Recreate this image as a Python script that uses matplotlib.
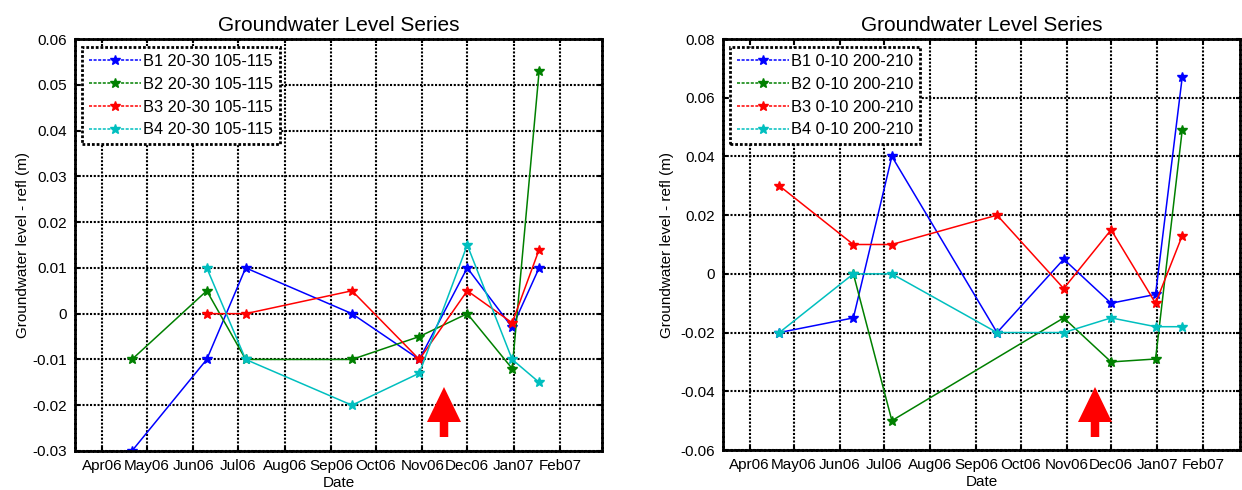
import datetime as dt
import numpy as np

import matplotlib
matplotlib.use('Agg')
import matplotlib.pyplot as plt
import matplotlib.dates as mdates
import matplotlib.ticker as mtick
from matplotlib.patches import FancyArrow
from matplotlib.lines import Line2D

plt.rcParams['font.family'] = ['Liberation Sans', 'DejaVu Sans']
plt.rcParams['font.size'] = 11
plt.rcParams['axes.unicode_minus'] = False

# survey dates (same for both panels)
dates = [dt.date(2006, 4, 21), dt.date(2006, 6, 10), dt.date(2006, 7, 6),
         dt.date(2006, 9, 15), dt.date(2006, 10, 30), dt.date(2006, 12, 1),
         dt.date(2006, 12, 31), dt.date(2007, 1, 18)]
nan = np.nan

# left panel: 20-30 105-115
left_labels = ['B1 20-30 105-115', 'B2 20-30 105-115', 'B3 20-30 105-115', 'B4 20-30 105-115']
left_b1 = [-0.030, -0.010, 0.010, 0.000, -0.010, 0.010, -0.003, 0.010]
left_b2 = [-0.010, 0.005, -0.010, -0.010, -0.005, 0.000, -0.012, 0.053]
left_b3 = [nan, 0.000, 0.000, 0.005, -0.010, 0.005, -0.002, 0.014]
left_b4 = [nan, 0.010, -0.010, -0.020, -0.013, 0.015, -0.010, -0.015]

# right panel: 0-10 200-210
right_labels = ['B1 0-10 200-210', 'B2 0-10 200-210', 'B3 0-10 200-210', 'B4 0-10 200-210']
right_b1 = [-0.020, -0.015, 0.040, -0.020, 0.005, -0.010, -0.007, 0.067]
right_b2 = [nan, 0.000, -0.050, nan, -0.015, -0.030, -0.029, 0.049]
right_b3 = [0.030, 0.010, 0.010, 0.020, -0.005, 0.015, -0.010, 0.013]
right_b4 = [-0.020, 0.000, 0.000, -0.020, -0.020, -0.015, -0.018, -0.018]

month_ticks = [dt.date(2006, m, 1) for m in range(4, 13)] + [dt.date(2007, 1, 1), dt.date(2007, 2, 1)]
colors = ['#0000ff', '#008000', '#ff0000', '#00bfbf']

W, H = 1242, 490
fig = plt.figure(figsize=(W / 100, H / 100), dpi=100)


def px_box(x0, x1, y0, y1):
    return [x0 / W, 1 - y1 / H, (x1 - x0) / W, (y1 - y0) / H]


def make_panel(box, series, labels, ylim, ystep, xlim, ylab_x):
    ax = fig.add_axes(box)
    for vals, c in zip(series, colors):
        v = np.array(vals, dtype=float)
        ok = ~np.isnan(v)
        x = [d for d, k in zip(dates, ok) if k]
        ax.plot(x, v[ok], '-', color=c, lw=1.1, marker='*', ms=7, mec=c, mfc=c)

    ax.set_xlim(xlim)
    ax.set_ylim(ylim)
    ax.set_xticks(month_ticks)
    ax.xaxis.set_major_formatter(mdates.DateFormatter('%b%y'))
    ax.set_yticks(np.arange(ylim[0], ylim[1] + ystep / 2, ystep))
    ax.yaxis.set_major_formatter(mtick.FuncFormatter(
        lambda v, p: '0' if abs(v) < 1e-9 else ('%g' % round(v, 3))))
    ax.tick_params(direction='in', length=3, width=1.5, top=True, right=True,
                   labelsize=11, pad=6)
    ax.grid(True, color='k', linestyle=(0, (1, 0.8)), lw=1.5)
    for s in ax.spines.values():
        s.set_linestyle((0, (1, 0.7)))
        s.set_linewidth(2)
    ax.set_title('Groundwater Level Series', fontsize=15, pad=6)
    ax.set_xlabel('Date', fontsize=11, labelpad=2)
    ax.set_ylabel('Groundwater level - refl (m)', fontsize=11)
    ax.yaxis.set_label_coords((ylab_x - box[0] * W) / (box[2] * W), 0.5)

    handles = [Line2D([], [], color=c, lw=1.1, ls=(0, (2, 1)), marker='*', ms=7)
               for c in colors]
    leg = ax.legend(handles, labels, loc='upper left', bbox_to_anchor=(0.014, 0.98),
                    fontsize=11.8, handlelength=3.2, handletextpad=0.1, labelspacing=0.48,
                    borderpad=0.4, fancybox=False, framealpha=1, numpoints=1,
                    borderaxespad=0)
    fr = leg.get_frame()
    fr.set_edgecolor('k')
    fr.set_linewidth(2)
    fr.set_linestyle((0, (1, 0.7)))
    return ax


ax1 = make_panel(px_box(75, 602, 39, 451), [left_b1, left_b2, left_b3, left_b4],
                 left_labels, (-0.03, 0.06), 0.01,
                 (dt.date(2006, 3, 14), dt.date(2007, 3, 1)), 30)
ax2 = make_panel(px_box(723, 1240, 39, 450), [right_b1, right_b2, right_b3, right_b4],
                 right_labels, (-0.06, 0.08), 0.02,
                 (dt.date(2006, 3, 14), dt.date(2007, 2, 26)), 674)

# red arrows (figure annotations)
for xc in [444, 1095]:
    arr = FancyArrow(xc / W, 1 - 437 / H, 0, (437 - 387) / H, width=8.5 / W,
                     head_width=34 / W, head_length=35 / H, length_includes_head=True,
                     transform=fig.transFigure, color='#ff0000', lw=0)
    fig.patches.append(arr)

plt.savefig('out.png', dpi=100)
